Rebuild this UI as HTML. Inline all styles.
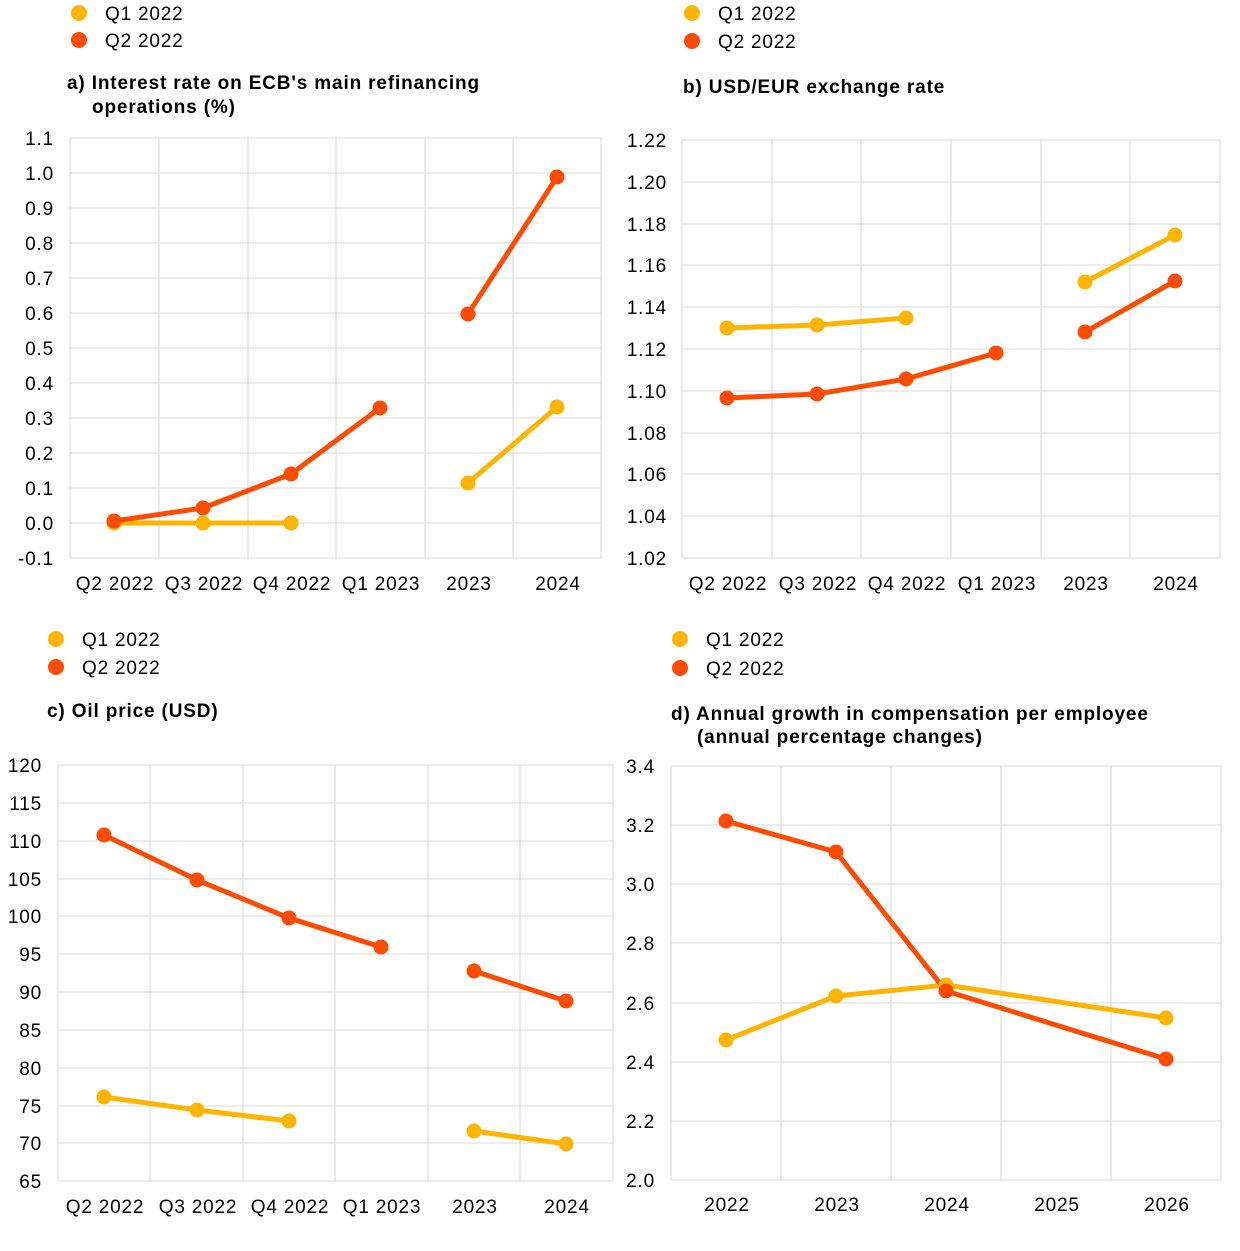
<!DOCTYPE html>
<html><head><meta charset="utf-8"><style>
body{margin:0;background:#fff}
svg{display:block;font-family:"Liberation Sans",Arial,sans-serif}
.t{font-size:19px;fill:#000;letter-spacing:0.8px}
.h{font-size:19px;font-weight:bold;fill:#000;letter-spacing:0.85px}
.g{stroke:#d9d9d9;stroke-width:1;fill:none}
.y{stroke:#FFB400;stroke-width:5;fill:none}
.o{stroke:#FF4B00;stroke-width:5;fill:none}
</style></head><body>
<svg width="1240" height="1251" viewBox="0 0 1240 1251">
<!-- Panel a -->
<circle cx="79" cy="13" r="8" fill="#FFB400"/><text class="t" x="105" y="20">Q1 2022</text>
<circle cx="79" cy="40" r="8" fill="#FF4B00"/><text class="t" x="105" y="47">Q2 2022</text>
<text class="h" x="67" y="89">a) Interest rate on ECB's main refinancing</text>
<text class="h" x="92" y="113">operations (%)</text>
<g class="g">
<path d="M70 138H601M70 173H601M70 208H601M70 243H601M70 278H601M70 313H601M70 348H601M70 383H601M70 418H601M70 453H601M70 488H601M70 523H601M70 558H601"/>
<path d="M70 138V558M159 138V558M248 138V558M336 138V558M425 138V558M513 138V558M601 138V558"/>
</g>
<g class="t" text-anchor="end">
<text x="54" y="145">1.1</text><text x="54" y="180">1.0</text><text x="54" y="215">0.9</text><text x="54" y="250">0.8</text><text x="54" y="285">0.7</text><text x="54" y="320">0.6</text><text x="54" y="355">0.5</text><text x="54" y="390">0.4</text><text x="54" y="425">0.3</text><text x="54" y="460">0.2</text><text x="54" y="495">0.1</text><text x="54" y="530">0.0</text><text x="54" y="565">-0.1</text>
</g>
<g class="t" text-anchor="middle">
<text x="115" y="590">Q2 2022</text><text x="204" y="590">Q3 2022</text><text x="292" y="590">Q4 2022</text><text x="381" y="590">Q1 2023</text><text x="469" y="590">2023</text><text x="558" y="590">2024</text>
</g>
<path class="y" d="M114 523L203 523L291 523M468 483L557 407"/>
<path class="o" d="M114 521L203 508L291 474L380 408M468 314L557 177"/>
<g fill="#FFB400"><circle cx="114" cy="523" r="7.5"/><circle cx="203" cy="523" r="7.5"/><circle cx="291" cy="523" r="7.5"/><circle cx="468" cy="483" r="7.5"/><circle cx="557" cy="407" r="7.5"/></g>
<g fill="#FF4B00"><circle cx="114" cy="521" r="7.5"/><circle cx="203" cy="508" r="7.5"/><circle cx="291" cy="474" r="7.5"/><circle cx="380" cy="408" r="7.5"/><circle cx="468" cy="314" r="7.5"/><circle cx="557" cy="177" r="7.5"/></g>

<!-- Panel b -->
<circle cx="692" cy="13" r="8" fill="#FFB400"/><text class="t" x="718" y="20">Q1 2022</text>
<circle cx="692" cy="41" r="8" fill="#FF4B00"/><text class="t" x="718" y="48">Q2 2022</text>
<text class="h" x="683" y="93">b) USD/EUR exchange rate</text>
<g class="g">
<path d="M682 140H1220M682 182H1220M682 224H1220M682 265H1220M682 307H1220M682 349H1220M682 391H1220M682 433H1220M682 474H1220M682 516H1220M682 558H1220"/>
<path d="M682 140V558M772 140V558M861 140V558M951 140V558M1041 140V558M1130 140V558M1220 140V558"/>
</g>
<g class="t" text-anchor="end">
<text x="667" y="147">1.22</text><text x="667" y="189">1.20</text><text x="667" y="231">1.18</text><text x="667" y="272">1.16</text><text x="667" y="314">1.14</text><text x="667" y="356">1.12</text><text x="667" y="398">1.10</text><text x="667" y="440">1.08</text><text x="667" y="481">1.06</text><text x="667" y="523">1.04</text><text x="667" y="565">1.02</text>
</g>
<g class="t" text-anchor="middle">
<text x="728" y="590">Q2 2022</text><text x="818" y="590">Q3 2022</text><text x="907" y="590">Q4 2022</text><text x="997" y="590">Q1 2023</text><text x="1086" y="590">2023</text><text x="1176" y="590">2024</text>
</g>
<path class="y" d="M727 328L817 325L906 318M1085 282L1175 235"/>
<path class="o" d="M727 398L817 394L906 379L996 353M1085 332L1175 281"/>
<g fill="#FFB400"><circle cx="727" cy="328" r="7.5"/><circle cx="817" cy="325" r="7.5"/><circle cx="906" cy="318" r="7.5"/><circle cx="1085" cy="282" r="7.5"/><circle cx="1175" cy="235" r="7.5"/></g>
<g fill="#FF4B00"><circle cx="727" cy="398" r="7.5"/><circle cx="817" cy="394" r="7.5"/><circle cx="906" cy="379" r="7.5"/><circle cx="996" cy="353" r="7.5"/><circle cx="1085" cy="332" r="7.5"/><circle cx="1175" cy="281" r="7.5"/></g>

<!-- Panel c -->
<circle cx="56" cy="639" r="8" fill="#FFB400"/><text class="t" x="82" y="646">Q1 2022</text>
<circle cx="56" cy="667" r="8" fill="#FF4B00"/><text class="t" x="82" y="674">Q2 2022</text>
<text class="h" x="47" y="717">c) Oil price (USD)</text>
<g class="g">
<path d="M58 765H613M58 803H613M58 841H613M58 879H613M58 916H613M58 954H613M58 992H613M58 1030H613M58 1068H613M58 1106H613M58 1143H613M58 1181H613"/>
<path d="M58 765V1181M150 765V1181M243 765V1181M335 765V1181M428 765V1181M520 765V1181M613 765V1181"/>
</g>
<g class="t" text-anchor="end">
<text x="42" y="772">120</text><text x="42" y="810">115</text><text x="42" y="848">110</text><text x="42" y="886">105</text><text x="42" y="923">100</text><text x="42" y="961">95</text><text x="42" y="999">90</text><text x="42" y="1037">85</text><text x="42" y="1075">80</text><text x="42" y="1113">75</text><text x="42" y="1150">70</text><text x="42" y="1188">65</text>
</g>
<g class="t" text-anchor="middle">
<text x="105" y="1213">Q2 2022</text><text x="198" y="1213">Q3 2022</text><text x="290" y="1213">Q4 2022</text><text x="382" y="1213">Q1 2023</text><text x="475" y="1213">2023</text><text x="567" y="1213">2024</text>
</g>
<path class="o" d="M104 835L197 880L289 918L381 947M474 971L566 1001"/>
<path class="y" d="M104 1097L197 1110L289 1121M474 1131L566 1144"/>
<g fill="#FF4B00"><circle cx="104" cy="835" r="7.5"/><circle cx="197" cy="880" r="7.5"/><circle cx="289" cy="918" r="7.5"/><circle cx="381" cy="947" r="7.5"/><circle cx="474" cy="971" r="7.5"/><circle cx="566" cy="1001" r="7.5"/></g>
<g fill="#FFB400"><circle cx="104" cy="1097" r="7.5"/><circle cx="197" cy="1110" r="7.5"/><circle cx="289" cy="1121" r="7.5"/><circle cx="474" cy="1131" r="7.5"/><circle cx="566" cy="1144" r="7.5"/></g>

<!-- Panel d -->
<circle cx="680" cy="639" r="8" fill="#FFB400"/><text class="t" x="706" y="646">Q1 2022</text>
<circle cx="680" cy="668" r="8" fill="#FF4B00"/><text class="t" x="706" y="675">Q2 2022</text>
<text class="h" x="671" y="720">d) Annual growth in compensation per employee</text>
<text class="h" x="697" y="743">(annual percentage changes)</text>
<g class="g">
<path d="M671 766H1221M671 825H1221M671 884H1221M671 943H1221M671 1003H1221M671 1062H1221M671 1121H1221M671 1180H1221"/>
<path d="M671 766V1180M781 766V1180M891 766V1180M1001 766V1180M1111 766V1180M1221 766V1180"/>
</g>
<g class="t" text-anchor="end">
<text x="655" y="773">3.4</text><text x="655" y="832">3.2</text><text x="655" y="891">3.0</text><text x="655" y="950">2.8</text><text x="655" y="1010">2.6</text><text x="655" y="1069">2.4</text><text x="655" y="1128">2.2</text><text x="655" y="1187">2.0</text>
</g>
<g class="t" text-anchor="middle">
<text x="727" y="1211">2022</text><text x="837" y="1211">2023</text><text x="947" y="1211">2024</text><text x="1057" y="1211">2025</text><text x="1167" y="1211">2026</text>
</g>
<path class="y" d="M726 1040L836 996L946 985L1166 1018"/>
<path class="o" d="M726 821L836 852L946 991L1166 1059"/>
<g fill="#FFB400"><circle cx="726" cy="1040" r="7.5"/><circle cx="836" cy="996" r="7.5"/><circle cx="946" cy="985" r="7.5"/><circle cx="1166" cy="1018" r="7.5"/></g>
<g fill="#FF4B00"><circle cx="726" cy="821" r="7.5"/><circle cx="836" cy="852" r="7.5"/><circle cx="946" cy="991" r="7.5"/><circle cx="1166" cy="1059" r="7.5"/></g>
</svg>
</body></html>
